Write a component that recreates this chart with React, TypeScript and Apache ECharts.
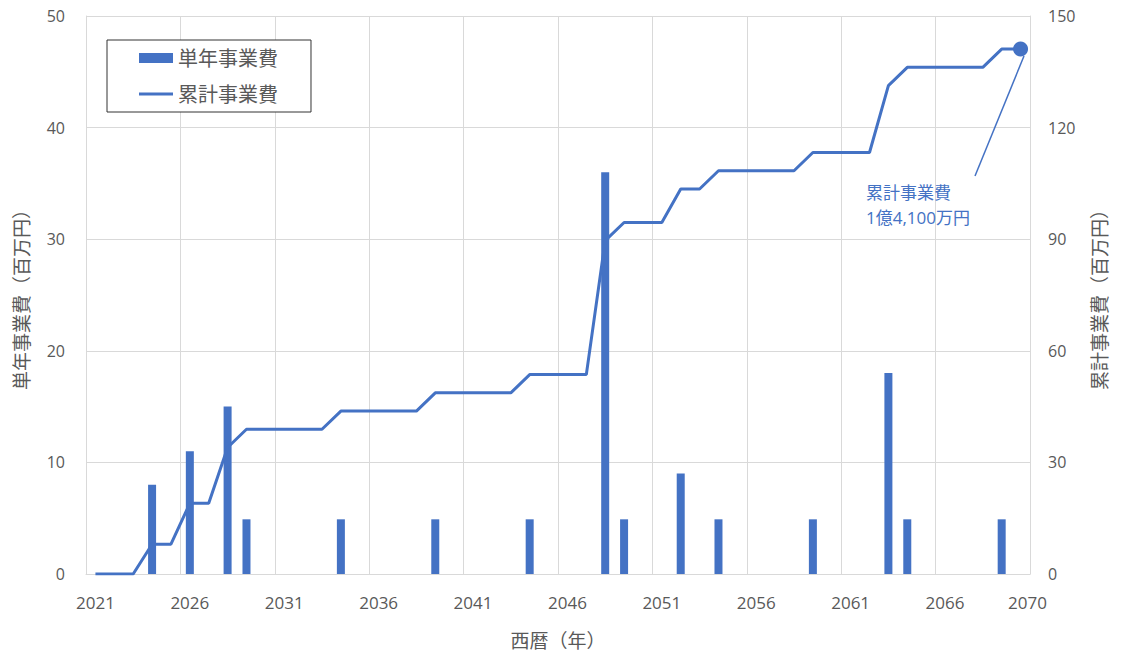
import React, { useEffect, useRef } from "react";
import * as echarts from "echarts";

const years = [
  "2021","2022","2023","2024","2025","2026","2027","2028","2029","2030",
  "2031","2032","2033","2034","2035","2036","2037","2038","2039","2040",
  "2041","2042","2043","2044","2045","2046","2047","2048","2049","2050",
  "2051","2052","2053","2054","2055","2056","2057","2058","2059","2060",
  "2061","2062","2063","2064","2065","2066","2067","2068","2069","2070",
];

// 単年事業費（百万円）
const singleYear = [
  0, 0, 0, 8, 0, 11, 0, 15, 4.9, 0,
  0, 0, 0, 4.9, 0, 0, 0, 0, 4.9, 0,
  0, 0, 0, 4.9, 0, 0, 0, 36, 4.9, 0,
  0, 9, 0, 4.9, 0, 0, 0, 0, 4.9, 0,
  0, 0, 18, 4.9, 0, 0, 0, 0, 4.9, 0,
];

// 累計事業費（百万円）
const cumulative = [
  0, 0, 0, 8, 8, 19, 19, 34, 38.9, 38.9,
  38.9, 38.9, 38.9, 43.8, 43.8, 43.8, 43.8, 43.8, 48.7, 48.7,
  48.7, 48.7, 48.7, 53.6, 53.6, 53.6, 53.6, 89.6, 94.5, 94.5,
  94.5, 103.5, 103.5, 108.4, 108.4, 108.4, 108.4, 108.4, 113.3, 113.3,
  113.3, 113.3, 131.3, 136.2, 136.2, 136.2, 136.2, 136.2, 141.1, 141.1,
];

const leftTicks = [0, 50, 10];
const rightTicks = [0, 150, 30];

const BLUE = "#4472C4";
const GREY = "#595959";
const GRID = "#d9d9d9";
const FONT = "'Open Sans', 'Noto Sans CJK JP', sans-serif";

export default function App() {
  const ref = useRef<HTMLDivElement>(null);

  useEffect(() => {
    document.body.style.margin = "0";
    const chart = echarts.init(ref.current!, null, { renderer: "svg" });
    const last = cumulative.length - 1;
    const option: any = {
      animation: false,
      textStyle: { fontFamily: FONT },
      grid: { left: 86, right: 91, top: 16, bottom: 81, containLabel: false },
      legend: {
        orient: "vertical",
        left: 107,
        top: 40,
        padding: [8, 33, 8, 32],
        itemWidth: 34,
        itemHeight: 10,
        itemGap: 16,
        symbolKeepAspect: true,
        borderColor: "#333",
        borderWidth: 1,
        backgroundColor: "#fff",
        textStyle: { color: GREY, fontSize: 20, fontFamily: FONT },
        data: [
          { name: "単年事業費", icon: "rect" },
          { name: "累計事業費", icon: "path://M0,0H34V3H0Z" },
        ],
      },
      xAxis: {
        type: "category",
        data: years,
        boundaryGap: true,
        name: "西暦（年）",
        nameLocation: "middle",
        nameGap: 57,
        nameTextStyle: { color: GREY, fontSize: 19, fontFamily: FONT },
        axisLine: { show: true, lineStyle: { color: GRID, width: 1 } },
        axisTick: { show: false },
        axisLabel: {
          color: GREY,
          fontSize: 17,
          margin: 20,
          interval: (i: number) => i % 5 === 0 || i === years.length - 1,
          formatter: (v: string) => (v === years[years.length - 1] ? "{r|" + v + "}" : v),
          rich: { r: { color: GREY, fontSize: 17, fontFamily: FONT, padding: [0, 0, 0, 14] } },
        },
        splitLine: {
          show: true,
          interval: (i: number) => i % 5 === 0,
          lineStyle: { color: GRID, width: 1 },
        },
      },
      yAxis: [
        {
          type: "value",
          min: leftTicks[0],
          max: leftTicks[1],
          interval: leftTicks[2],
          name: "単年事業費（百万円）",
          nameLocation: "middle",
          nameRotate: 90,
          nameGap: 55,
          nameTextStyle: { color: GREY, fontSize: 19, fontFamily: FONT },
          axisLine: { show: true, lineStyle: { color: GRID } },
          axisTick: { show: false },
          axisLabel: { color: GREY, fontSize: 16, margin: 21 },
          splitLine: { show: true, lineStyle: { color: GRID, width: 1 } },
        },
        {
          type: "value",
          position: "right",
          min: rightTicks[0],
          max: rightTicks[1],
          interval: rightTicks[2],
          name: "累計事業費（百万円）",
          nameLocation: "middle",
          nameRotate: 90,
          nameGap: 60,
          nameTextStyle: { color: GREY, fontSize: 19, fontFamily: FONT },
          axisLine: { show: true, lineStyle: { color: GRID } },
          axisTick: { show: false },
          axisLabel: { color: GREY, fontSize: 16, margin: 18 },
          splitLine: { show: false },
        },
      ],
      series: [
        {
          name: "単年事業費",
          type: "bar",
          yAxisIndex: 0,
          barWidth: 8,
          itemStyle: { color: BLUE },
          data: singleYear,
        },
        {
          name: "累計事業費",
          type: "line",
          yAxisIndex: 1,
          symbol: "none",
          showSymbol: true,
          lineStyle: { color: BLUE, width: 3 },
          itemStyle: { color: BLUE },
          data: cumulative.map((v, i) =>
            i === last ? { value: v, symbol: "circle", symbolSize: 15 } : v
          ),
          z: 3,
        },
      ],
      graphic: [
        {
          type: "line",
          shape: { x1: 975, y1: 176, x2: 1024, y2: 56 },
          style: { stroke: BLUE, lineWidth: 1.5 },
          z: 10,
        },
        {
          type: "text",
          left: 866,
          top: 180,
          style: {
            text: "累計事業費\n1億4,100万円",
            fill: BLUE,
            fontSize: 17,
            lineHeight: 25,
            fontFamily: FONT,
          },
          z: 10,
        },
      ],
    };
    chart.setOption(option);
    return () => chart.dispose();
  }, []);

  return <div ref={ref} style={{ width: 1121, height: 655 }} />;
}
